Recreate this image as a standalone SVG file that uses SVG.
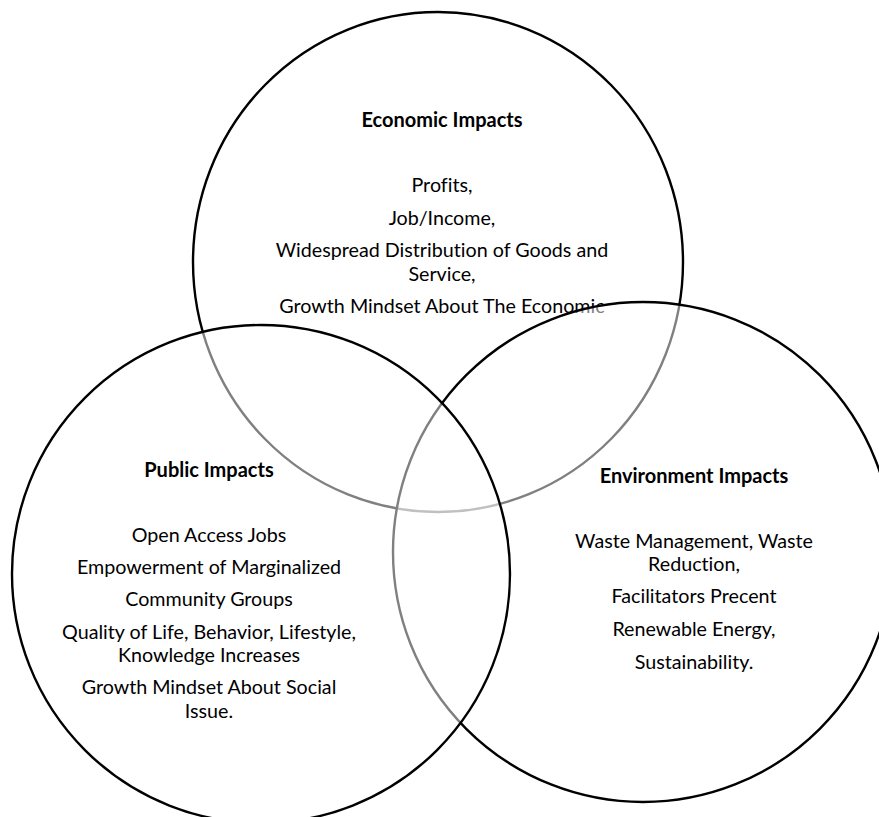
<svg xmlns="http://www.w3.org/2000/svg" width="879" height="817" viewBox="0 0 879 817">
<style>
.c{fill:#fff;fill-opacity:0.5;stroke:#000;stroke-width:2.4}
.h{font-family:Lato,"Liberation Sans",sans-serif;font-weight:bold;font-size:20px;fill:#000;text-anchor:middle;font-variant-ligatures:none}
.t{font-family:Lato,"Liberation Sans",sans-serif;font-size:19.7px;fill:#000;text-anchor:middle;font-variant-ligatures:none}
</style>
<rect width="879" height="817" fill="#fff"/>
<g id="economic">
<ellipse class="c" cx="438" cy="262" rx="245" ry="250"/>
<text class="h" x="442" y="127">Economic Impacts</text>
<text class="t" x="442" y="192">Profits,</text>
<text class="t" x="442" y="225">Job/Income,</text>
<text class="t" x="442" y="257">Widespread Distribution of Goods and</text>
<text class="t" x="442" y="281">Service,</text>
<text class="t" x="442" y="313">Growth Mindset About The Economic</text>
</g>
<g id="environment">
<circle class="c" cx="643" cy="552" r="250"/>
<text class="h" x="694" y="483">Environment Impacts</text>
<text class="t" x="694" y="548">Waste Management, Waste</text>
<text class="t" x="694" y="571">Reduction,</text>
<text class="t" x="694" y="603">Facilitators Precent</text>
<text class="t" x="694" y="636">Renewable Energy,</text>
<text class="t" x="694" y="669">Sustainability.</text>
</g>
<g id="public">
<circle class="c" cx="261" cy="574" r="249"/>
<text class="h" x="209" y="477">Public Impacts</text>
<text class="t" x="209" y="542">Open Access Jobs</text>
<text class="t" x="209" y="574">Empowerment of Marginalized</text>
<text class="t" x="209" y="606">Community Groups</text>
<text class="t" x="209" y="639">Quality of Life, Behavior, Lifestyle,</text>
<text class="t" x="209" y="662">Knowledge Increases</text>
<text class="t" x="209" y="694">Growth Mindset About Social</text>
<text class="t" x="209" y="718">Issue.</text>
</g>
<g id="connectors"/>
</svg>
